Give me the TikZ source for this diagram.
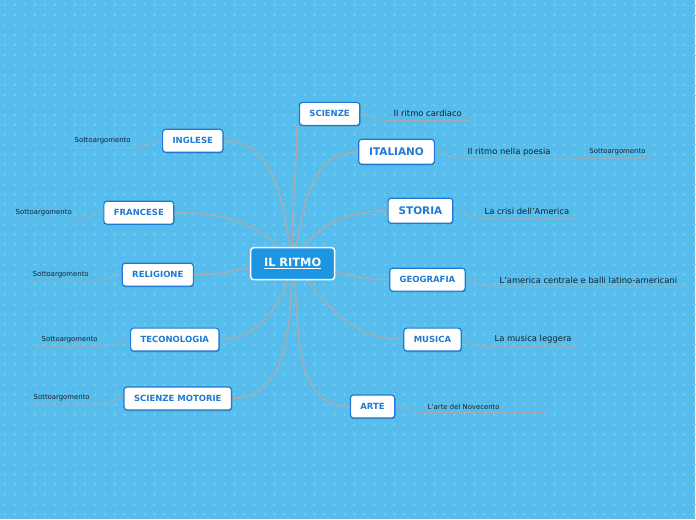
\documentclass[tikz,border=0pt]{standalone}
\usepackage{fontspec}
\setmainfont{DejaVu Sans}
\usepackage{tikz}
\usetikzlibrary{positioning,shadows}
\definecolor{skybg}{HTML}{56BDEC}
\definecolor{plusblue}{HTML}{74CAF1}
\definecolor{topicblue}{HTML}{1E7AD4}
\definecolor{rootblue}{HTML}{1C95E2}
\definecolor{linegrey}{HTML}{A6ABB0}
\definecolor{leafink}{HTML}{17212E}
\pgfdeclarelayer{bglayer}
\pgfsetlayers{bglayer,main}
\tikzset{
  topic/.style={
    draw=topicblue,
    fill=white,
    line width=1.2pt,
    rounded corners=3pt,
    text=topicblue,
    font=\bfseries\fontsize{8.5}{10}\selectfont,
    inner xsep=10pt,
    minimum height=23pt,
    drop shadow={shadow xshift=0.6pt,shadow yshift=-1pt,fill=black,opacity=0.25}
  },
  bigtopic/.style={
    topic,
    font=\bfseries\fontsize{10.5}{12}\selectfont,
    inner xsep=10.5pt,
    minimum height=25pt
  },
  rootbox/.style={
    draw=white,
    fill=rootblue,
    line width=1.5pt,
    rounded corners=3pt,
    text=white,
    font=\bfseries\fontsize{11.4}{13}\selectfont,
    minimum width=84pt,
    minimum height=32pt
  },
  leaf/.style={
    text=leafink,
    font=\fontsize{8.4}{10}\selectfont,
    inner xsep=8pt,
    inner ysep=3pt
  },
  smallleaf/.style={
    leaf,
    font=\fontsize{6.9}{8}\selectfont,
    inner xsep=6pt
  },
  branch/.style={draw=linegrey, line width=1.5pt},
  twig/.style={draw=linegrey, line width=0.9pt}
}

\begin{document}
\begin{tikzpicture}[x=1pt,y=-1pt]
  % background
  \begin{pgfonlayer}{bglayer}
    \fill[skybg] (0,0) rectangle (696,520);
    \draw[plusblue,line width=0.7pt]
      \foreach \x in {5,15,...,695} {\foreach \y in {5,15,...,515} {
        (\x-1.5,\y) -- ++(3,0) (\x,\y-1.5) -- ++(0,3)}};
  \end{pgfonlayer}
  \useasboundingbox (0,0) rectangle (696,520);

  % central topic
  \node[rootbox] (ritmo) at (293,264) {\underline{IL RITMO}};

  % right side
  \node[topic] (sci) at (330,114) {SCIENZE};
  \node[bigtopic] (ita) at (397,152) {ITALIANO};
  \node[bigtopic] (sto) at (421,211) {STORIA};
  \node[topic] (geo) at (428,280) {GEOGRAFIA};
  \node[topic] (mus) at (433,340) {MUSICA};
  \node[topic] (arte) at (373,407) {ARTE};

  % left side
  \node[topic] (ing) at (193,141) {INGLESE};
  \node[topic] (fra) at (139,213) {FRANCESE};
  \node[topic] (rel) at (158,275) {RELIGIONE};
  \node[topic] (tec) at (175,340) {TECONOLOGIA};
  \node[topic] (smot) at (178,399) {SCIENZE MOTORIE};

  % subtopics
  \node[leaf,anchor=west] (cardiaco) at (386,114) {Il ritmo cardiaco};
  \node[leaf,anchor=west] (poesia) at (460,152) {Il ritmo nella poesia};
  \node[smallleaf,anchor=west] (sottita) at (584,152) {Sottoargomento};
  \node[leaf,anchor=west] (crisi) at (477,212) {La crisi dell'America};
  \node[leaf,anchor=west] (america) at (492,281) {L'america centrale e balli latino-americani};
  \node[leaf,anchor=west] (leggera) at (487,340) {La musica leggera};
  \node[smallleaf,anchor=west] (novecento) at (422,407) {L'arte del Novecento};
  \node[smallleaf,anchor=east] (sotting) at (137,141) {Sottoargomento};
  \node[smallleaf,anchor=east] (sottfra) at (78,213) {Sottoargomento};
  \node[smallleaf,anchor=east] (sottrel) at (95,275) {Sottoargomento};
  \node[smallleaf,anchor=east] (sotttec) at (104,340) {Sottoargomento};
  \node[smallleaf,anchor=east] (sottsmot) at (96,398) {Sottoargomento};

  \begin{pgfonlayer}{bglayer}
    % main branches
    \draw[branch] (ritmo.center) to[out=92,in=-90] ([xshift=-2pt]sci.south west);
    \draw[branch] (ritmo.center) to[out=78,in=180] (ita.west);
    \draw[branch] (ritmo.center) to[out=62,in=180] (sto.west);
    \draw[branch] (ritmo.center) to[out=-5,in=180] (geo.west);
    \draw[branch] (ritmo.center) to[out=-50,in=180] (mus.west);
    \draw[branch] (ritmo.center) to[out=-82,in=180] (arte.west);
    \draw[branch] (ritmo.center) to[out=100,in=0] (ing.east);
    \draw[branch] (ritmo.center) to[out=125,in=0] (fra.east);
    \draw[branch] (ritmo.center) to[out=180,in=0] (rel.east);
    \draw[branch] (ritmo.center) to[out=-105,in=0] (tec.east);
    \draw[branch] (ritmo.center) to[out=-93,in=0] (smot.east);
    % twigs
    \draw[twig] (sci.east) to[out=0,in=180] (cardiaco.south west) -- (cardiaco.south east);
    \draw[twig] (ita.east) to[out=0,in=180] (poesia.south west) -- ([xshift=16pt]poesia.south east);
    \draw[twig] ([xshift=16pt]poesia.south east) to[out=0,in=180] (sottita.south west) -- (sottita.south east);
    \draw[twig] (sto.east) to[out=0,in=180] (crisi.south west) -- (crisi.south east);
    \draw[twig] (geo.east) to[out=0,in=180] (america.south west) -- (america.south east);
    \draw[twig] (mus.east) to[out=0,in=180] (leggera.south west) -- (leggera.south east);
    \draw[twig] (arte.east) to[out=0,in=180] (novecento.south west) -- ([xshift=40pt]novecento.south east);
    \draw[twig] (ing.west) to[out=180,in=0] (sotting.south east) -- (sotting.south west);
    \draw[twig] (fra.west) to[out=180,in=0] (sottfra.south east) -- (sottfra.south west);
    \draw[twig] (rel.west) to[out=180,in=0] (sottrel.south east) -- (sottrel.south west);
    \draw[twig] (tec.west) to[out=180,in=0] (sotttec.south east) -- (sotttec.south west);
    \draw[twig] (smot.west) to[out=180,in=0] (sottsmot.south east) -- (sottsmot.south west);
  \end{pgfonlayer}
\end{tikzpicture}
\end{document}
